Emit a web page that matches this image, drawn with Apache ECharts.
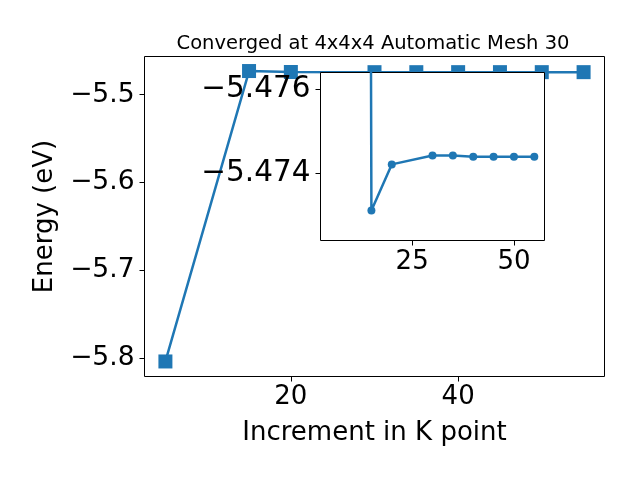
<!DOCTYPE html>
<html>
<head>
<meta charset="utf-8">
<script src="https://cdn.jsdelivr.net/npm/echarts@6/dist/echarts.min.js"></script>
<style>
  html, body { margin: 0; padding: 0; background: #fff; }
  #chart { width: 640px; height: 480px; }
</style>
</head>
<body>
<div id="chart"></div>
<script>
// k-point increments and total energy (eV)
const kpoints = [5, 15, 20, 30, 35, 40, 45, 50, 55]
const energy = [-5.8034, -5.47313, -5.47422, -5.47443, -5.47443, -5.4744, -5.4744, -5.4744, -5.4744]

const mainXTicks = [20, 40]
const mainYTicks = [-5.8, -5.7, -5.6, -5.5]
const insetXTicks = [25, 50]
const insetYTicks = [-5.476, -5.474]

const blue = '#1f77b4'
const font = 'DejaVu Sans'
const pts = kpoints.map((k, i) => [k, energy[i]])
const minus = s => s.replace('-', '\u2212')

const chart = echarts.init(document.getElementById('chart'))
chart.setOption({
  animation: false,
  title: {
    text: 'Converged at 4x4x4 Automatic Mesh 30',
    left: 368,
    textAlign: 'center',
    top: 29,
    textStyle: { fontFamily: font, fontSize: 19.5, fontWeight: 'normal', color: '#000' },
  },
  grid: [
    // main axes
    { left: 144.5, top: 56.5, width: 460, height: 320, show: true, borderColor: '#000', borderWidth: 1, backgroundColor: '#fff', z: 0 },
    // inset axes
    { left: 320.5, top: 72.5, width: 224, height: 168, show: true, borderColor: '#000', borderWidth: 1, backgroundColor: '#fff', z: 5 },
  ],
  xAxis: [
    {
      gridIndex: 0, type: 'value', min: 2.5, max: 57.5,
      splitLine: { show: false },
      axisLine: { show: false },
      axisTick: { show: true, customValues: mainXTicks, length: 5, lineStyle: { color: '#000' } },
      axisLabel: { customValues: mainXTicks, margin: 8, fontFamily: font, fontSize: 26, color: '#000' },
      name: 'Increment in K point', nameLocation: 'middle', nameGap: 44,
      nameTextStyle: { fontFamily: font, fontSize: 26, color: '#000' },
    },
    {
      gridIndex: 1, type: 'value', min: 2.5, max: 57.5, z: 6,
      splitLine: { show: false },
      axisLine: { show: false },
      axisTick: { show: true, customValues: insetXTicks, length: 5, lineStyle: { color: '#000' } },
      axisLabel: { customValues: insetXTicks, margin: 9, fontFamily: font, fontSize: 26, color: '#000' },
    },
  ],
  yAxis: [
    {
      gridIndex: 0, type: 'value', min: -5.8205, max: -5.4566,
      splitLine: { show: false },
      axisLine: { show: false },
      axisTick: { show: true, customValues: mainYTicks, length: 5, lineStyle: { color: '#000' } },
      axisLabel: {
        customValues: mainYTicks, margin: 10, fontFamily: font, fontSize: 26.5, color: '#000',
        formatter: v => minus(v.toFixed(1)),
      },
      name: 'Energy (eV)', nameLocation: 'middle', nameGap: 86, nameRotate: 90,
      nameTextStyle: { fontFamily: font, fontSize: 26, color: '#000' },
    },
    {
      gridIndex: 1, type: 'value', inverse: true, min: -5.476396, max: -5.472418, z: 6,
      splitLine: { show: false },
      axisLine: { show: false },
      axisTick: { show: true, customValues: insetYTicks, length: 5, lineStyle: { color: '#000' } },
      axisLabel: {
        customValues: insetYTicks, margin: 10, fontFamily: font, fontSize: 29.5, color: '#000',
        formatter: v => minus(v.toFixed(3)),
      },
    },
  ],
  series: [
    {
      type: 'line', xAxisIndex: 0, yAxisIndex: 0, data: pts, z: 2,
      symbol: 'rect', symbolSize: 14,
      lineStyle: { color: blue, width: 2.5 },
      itemStyle: { color: blue },
    },
    {
      type: 'line', xAxisIndex: 1, yAxisIndex: 1, data: pts, z: 7,
      symbol: 'circle', symbolSize: 8, clip: true,
      lineStyle: { color: blue, width: 2.5 },
      itemStyle: { color: blue },
    },
  ],
})
</script>
</body>
</html>
